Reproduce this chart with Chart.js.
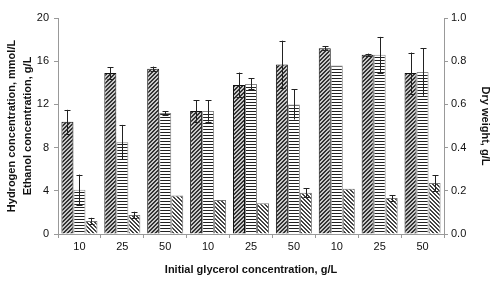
<!DOCTYPE html>
<html>
<head>
<meta charset="utf-8">
<script src="https://cdn.jsdelivr.net/npm/chart.js@4.4.0/dist/chart.umd.min.js"></script>
<style>
  html, body { margin: 0; padding: 0; background: #fff; }
  #wrap { width: 500px; height: 284px; }
</style>
</head>
<body>
<div id="wrap"><canvas id="chart" width="500" height="284"></canvas></div>
<script>
// categories (initial glycerol concentration, g/L)
const categories = ["10", "25", "50", "10", "25", "50", "10", "25", "50"];

// hydrogen, mmol/L (left axis)
const hydrogen = [10.4, 14.9, 15.3, 11.4, 13.8, 15.7, 17.2, 16.6, 14.9];
const hydrogenErr = [1.1, 0.55, 0.2, 1.0, 1.15, 2.2, 0.2, 0.1, 1.9];

// ethanol, g/L (left axis)
const ethanol = [4.1, 8.5, 11.2, 11.4, 13.9, 12.0, 15.6, 16.6, 15.0];
const ethanolErr = [1.4, 1.6, 0.15, 1.0, 0.5, 1.4, 0, 1.65, 2.2];

// dry weight, g/L (right axis)
const dryWeight = [0.06, 0.088, 0.178, 0.157, 0.142, 0.191, 0.21, 0.167, 0.236];
const dryWeightErr = [0.015, 0.015, 0, 0, 0, 0.02, 0, 0.013, 0.037];

const leftTicks = [0, 4, 8, 12, 16, 20];
const rightTicks = [0, 0.2, 0.4, 0.6, 0.8, 1.0];

const FONT = "'Liberation Sans', Arial, sans-serif";

function hatch(kind) {
  const c = document.createElement("canvas");
  const s = kind === "horiz" ? 3 : 4;
  c.width = s; c.height = s;
  const g = c.getContext("2d");
  if (kind === "fwd") {
    g.fillStyle = "#c8c8c8";
    g.fillRect(0, 0, s, s);
    g.fillStyle = "#333";
    for (let i = 0; i < s; i++) {
      g.fillRect((s - 1 - i) % s, i, 1, 1);
      g.fillRect((s - i) % s, i, 1, 1);
    }
  } else if (kind === "back") {
    g.fillStyle = "#fff";
    g.fillRect(0, 0, s, s);
    g.fillStyle = "#444";
    for (let i = 0; i < s; i++) {
      g.fillRect(i, i, 1, 1);
      g.fillRect((i + 1) % s, i, 1, 1);
    }
  } else {
    g.fillStyle = "#fff";
    g.fillRect(0, 0, s, s);
    g.fillStyle = "#222";
    g.fillRect(0, 0, s, 1);
  }
  return g.createPattern(c, "repeat");
}

const errorBars = {
  id: "errorBars",
  afterDatasetsDraw(chart) {
    const ctx = chart.ctx;
    ctx.save();
    ctx.strokeStyle = "#222";
    ctx.lineWidth = 1;
    chart.data.datasets.forEach((ds, di) => {
      const meta = chart.getDatasetMeta(di);
      const scale = chart.scales[ds.yAxisID];
      meta.data.forEach((bar, i) => {
        const e = ds.errors[i];
        if (!e) return;
        const v = ds.data[i];
        const x = Math.round(bar.x) + 0.5;
        const y1 = scale.getPixelForValue(v + e);
        const y2 = scale.getPixelForValue(v - e);
        ctx.beginPath();
        ctx.moveTo(x, y1); ctx.lineTo(x, y2);
        ctx.moveTo(x - 3, Math.round(y1) + 0.5); ctx.lineTo(x + 3, Math.round(y1) + 0.5);
        ctx.moveTo(x - 3, Math.round(y2) + 0.5); ctx.lineTo(x + 3, Math.round(y2) + 0.5);
        ctx.stroke();
      });
    });
    ctx.restore();
  }
};

new Chart(document.getElementById("chart"), {
  type: "bar",
  data: {
    labels: categories,
    datasets: [
      {
        label: "Hydrogen",
        data: hydrogen,
        errors: hydrogenErr,
        yAxisID: "y",
        backgroundColor: hatch("fwd"),
        borderColor: "#111",
        borderWidth: 1
      },
      {
        label: "Ethanol",
        data: ethanol,
        errors: ethanolErr,
        yAxisID: "y",
        backgroundColor: hatch("horiz"),
        borderColor: "#888",
        borderWidth: 1
      },
      {
        label: "Dry weight",
        data: dryWeight,
        errors: dryWeightErr,
        yAxisID: "y2",
        backgroundColor: hatch("back"),
        borderColor: "#777",
        borderWidth: 1
      }
    ]
  },
  options: {
    responsive: false,
    animation: false,
    events: [],
    layout: { padding: { top: 18, right: 8, left: 4, bottom: 0 } },
    datasets: { bar: { categoryPercentage: 0.84, barPercentage: 1.0 } },
    plugins: { legend: { display: false }, tooltip: { enabled: false } },
    scales: {
      x: {
        offset: true,
        grid: { offset: true, drawOnChartArea: false, color: "#999", tickLength: 4 },
        border: { color: "#999" },
        ticks: { color: "#111", font: { family: FONT, size: 11 }, padding: 2, maxRotation: 0, autoSkip: false },
        title: { display: true, text: "Initial glycerol concentration, g/L", color: "#111", font: { family: FONT, size: 11, weight: "bold" }, padding: { top: 2, bottom: 7 } },
        afterFit(s) { s.height = 50; }
      },
      y: {
        position: "left",
        min: 0, max: 20,
        afterBuildTicks(s) { s.ticks = leftTicks.map(v => ({ value: v })); },
        grid: { drawOnChartArea: false, color: "#999", tickLength: 4 },
        border: { color: "#999" },
        ticks: { color: "#111", font: { family: FONT, size: 11 }, padding: 5 },
        title: { display: true, text: ["Hydrogen concentration, mmol/L", "Ethanol concentration, g/L"], color: "#111", font: { family: FONT, size: 11, weight: "bold", lineHeight: 1.45 }, padding: 0 },
        afterFit(s) { s.width = 54; }
      },
      y2: {
        position: "right",
        min: 0, max: 1,
        afterBuildTicks(s) { s.ticks = rightTicks.map(v => ({ value: v })); },
        grid: { drawOnChartArea: false, color: "#999", tickLength: 4 },
        border: { color: "#999" },
        ticks: { color: "#111", font: { family: FONT, size: 11 }, padding: 3, callback: v => v.toFixed(1) },
        title: { display: true, text: "Dry weight, g/L", color: "#111", font: { family: FONT, size: 11, weight: "bold" }, padding: 0 },
        afterFit(s) { s.width = 48; }
      }
    }
  },
  plugins: [errorBars]
});
</script>
</body>
</html>
